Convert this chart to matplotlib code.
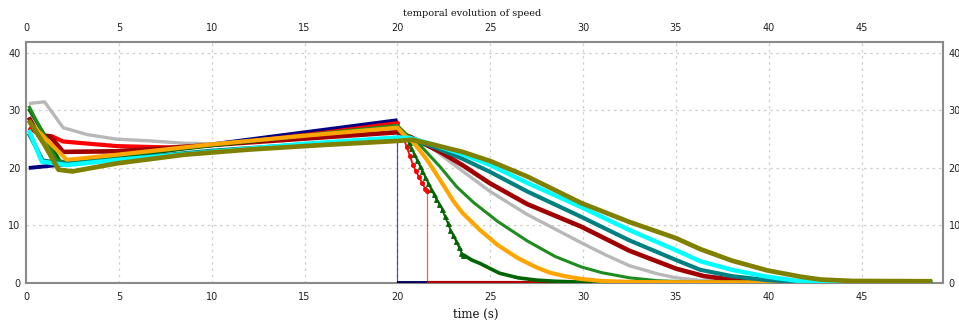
import matplotlib
matplotlib.use("Agg")
import matplotlib.pyplot as plt
from matplotlib.colors import to_rgb

# ---- speed traces (m/s) against time (s) ----
navy_t = [0.15, 2.0, 5.0, 10.0, 15.0, 20.0, 20.0, 21.6]
navy_v = [20.0, 20.6, 21.9, 24.1, 26.2, 28.3, 0.0, 0.0]

red_t = [0.15, 0.8, 1.4, 2.0, 4.9, 8.5, 12.0, 16.0, 20.0,
         20.17, 20.33, 20.5, 20.67, 20.83, 21.0, 21.17, 21.33, 21.5, 21.58,
         21.58, 48.8]
red_v = [27.0, 25.7, 25.5, 24.6, 23.8, 23.5, 24.6, 26.1, 27.8,
         26.3, 25.1, 23.7, 22.1, 20.6, 19.4, 18.4, 17.4, 16.4, 16.0,
         0.0, 0.0]

darkred_t = [0.15, 0.7, 1.3, 2.0, 4.9, 10.0, 15.0, 20.0, 20.7, 22.3, 23.5,
             25.0, 27.0, 29.9, 32.5, 35.0, 36.5, 38.2, 40.0, 48.8]
darkred_v = [28.8, 25.6, 25.5, 22.8, 22.9, 24.0, 25.1, 26.2, 25.4, 22.8, 20.5,
             17.3, 13.7, 9.8, 5.6, 2.5, 1.2, 0.5, 0.2, 0.1]

grey_t = [0.15, 1.0, 2.0, 3.3, 4.9, 6.7, 8.5, 10.0, 15.0, 20.0, 20.7, 21.4,
          23.2, 25.0, 27.0, 29.9, 31.2, 32.5, 34.0, 35.0, 36.5, 48.8]
grey_v = [31.2, 31.5, 27.0, 25.8, 25.0, 24.7, 24.3, 24.2, 25.3, 26.5, 25.3, 24.6,
          20.2, 15.9, 11.9, 7.0, 4.9, 3.0, 1.6, 0.9, 0.4, 0.1]

green_t = [0.15, 1.65, 2.2, 5.0, 10.0, 15.0, 20.0, 20.5, 21.04, 22.3, 23.2,
           24.1, 25.4, 27.0, 28.5, 29.9, 31.0, 32.5, 34.0, 36.0, 48.8]
green_v = [30.8, 21.4, 21.0, 22.2, 24.0, 25.7, 27.4, 25.8, 24.6, 20.2, 16.7,
           14.0, 10.7, 7.3, 4.6, 2.8, 1.8, 0.9, 0.4, 0.15, 0.05]

dkgreen_t = [0.15, 1.9, 5.0, 10.0, 15.0, 20.0, 20.15, 20.3, 20.45, 20.6,
             20.75, 20.9, 21.05, 21.2, 21.35, 21.5, 21.65, 21.8, 21.95, 22.1,
             22.25, 22.4, 22.55, 22.7, 22.85, 23.0, 23.15, 23.3, 23.45, 23.55,
             24.0, 24.45, 25.0, 25.5, 26.5, 27.5, 28.5, 30.0, 48.8]
dkgreen_v = [30.3, 20.8, 22.0, 23.9, 25.6, 27.3, 26.6, 25.9, 25.2, 24.6,
             23.5, 22.4, 21.4, 20.4, 19.4, 18.4, 17.4, 16.4, 15.5, 14.6,
             13.8, 12.9, 11.6, 10.5, 9.3, 8.3, 7.3, 6.3, 5.3, 4.9,
             4.0, 3.4, 2.5, 1.7, 0.9, 0.5, 0.3, 0.15, 0.05]

orange_t = [0.15, 2.2, 4.9, 10.0, 15.0, 20.0, 20.4, 20.85, 21.6, 22.5, 23.0,
            23.5, 24.45, 25.4, 26.5, 27.5, 28.2, 29.0, 29.9, 31.0, 33.0, 48.8]
orange_v = [28.0, 21.4, 22.3, 24.1, 25.6, 27.0, 25.6, 24.5, 21.4, 16.9, 14.3,
            12.2, 9.2, 6.6, 4.3, 2.7, 1.8, 1.2, 0.7, 0.35, 0.15, 0.05]

teal_t = [0.15, 0.9, 2.2, 5.0, 10.0, 15.0, 20.0, 20.7, 22.0, 23.5, 25.0,
          27.0, 29.9, 32.5, 35.0, 36.3, 38.0, 39.9, 41.5, 48.8]
teal_v = [26.0, 21.3, 20.7, 21.5, 23.0, 24.1, 25.0, 25.1, 23.6, 21.6, 19.3,
          15.9, 11.5, 7.4, 4.0, 2.3, 1.2, 0.5, 0.2, 0.1]

cyan_t = [0.15, 0.85, 2.2, 4.9, 10.0, 15.0, 20.0, 20.7, 22.0, 23.5, 25.0,
          27.0, 29.9, 32.5, 35.0, 36.3, 38.0, 39.9, 41.5, 42.8, 48.8]
cyan_v = [26.6, 21.1, 20.5, 21.4, 22.8, 24.2, 25.3, 25.2, 24.0, 22.4, 20.5,
          17.4, 13.2, 9.2, 5.7, 3.8, 2.3, 1.1, 0.4, 0.2, 0.1]

olive_t = [0.15, 1.0, 1.75, 2.5, 4.9, 8.5, 12.0, 16.0, 20.0, 20.8, 22.0, 23.5,
           25.0, 27.0, 29.9, 32.5, 35.0, 36.3, 38.0, 39.9, 41.7, 42.8,
           44.5, 48.8]
olive_v = [28.3, 24.0, 19.7, 19.4, 20.8, 22.3, 23.2, 24.0, 24.7, 24.9, 24.0,
           22.8, 21.2, 18.5, 13.9, 10.6, 7.8, 5.9, 3.9, 2.2, 1.1, 0.6,
           0.35, 0.3]

x_ticks = [0, 5, 10, 15, 20, 25, 30, 35, 40, 45]
y_ticks = [0, 10, 20, 30, 40]

W, H = 959, 325
fig = plt.figure(figsize=(W / 100, H / 100), dpi=100)
ax = fig.add_axes([26 / W, (H - 283) / H, (943 - 26) / W, (283 - 42) / H])
ax.set_xlim(0, 49.38)
ax.set_ylim(0, 41.9)


def darker(color, f=0.7):
    r, g, b = to_rgb(color)
    return (r * f, g * f, b * f)


def draw(t, v, color, lw, marked=None, marker=None, ms=3.0, z=3):
    """Thick trace; jumps (repeated time) thin; an optional marked span
    drawn as a thin line with symbols at each sample; stretches resting
    on the zero floor drawn in a darker shade."""
    n = len(t)
    kinds = []
    for i in range(n - 1):
        if t[i + 1] == t[i]:
            kinds.append("jump")
        elif v[i] == 0 and v[i + 1] == 0:
            kinds.append("floor")
        elif marked and t[i] >= marked[0] and t[i + 1] <= marked[1]:
            kinds.append("mark")
        else:
            kinds.append("thick")
    i = 0
    while i < n - 1:
        k = kinds[i]
        j = i
        while j < n - 1 and kinds[j] == k:
            j += 1
        xs, ys = t[i:j + 1], v[i:j + 1]
        if k == "thick":
            ax.plot(xs, ys, color=color, lw=lw, solid_joinstyle="round",
                    solid_capstyle="butt", zorder=z)
        elif k == "floor":
            ax.plot(xs, ys, color=darker(color), lw=lw, solid_capstyle="butt",
                    zorder=z)
        elif k == "jump":
            ax.plot(xs, ys, color=color, lw=0.9, alpha=0.65, zorder=z)
        else:
            ax.plot(xs, ys, color=color, lw=1.3, marker=marker, ms=ms,
                    markeredgewidth=0.6, zorder=z)
        i = j


draw(navy_t, navy_v, "#000080", 2.8)
draw(grey_t, grey_v, "#b8b8b8", 2.4)
draw(red_t, red_v, "#ff0000", 3.0, marked=(20.0, 21.58), marker="o", ms=3.0)
draw(darkred_t, darkred_v, "#a00000", 3.3)
draw(dkgreen_t, dkgreen_v, "#006400", 2.6, marked=(20.0, 23.55), marker="^", ms=3.6)
draw(green_t, green_v, "#1e8c1e", 2.2)
draw(orange_t, orange_v, "#ffa500", 3.0)
draw(teal_t, teal_v, "#008080", 3.0)
draw(cyan_t, cyan_v, "#00ffff", 3.2)
draw(olive_t, olive_v, "#808000", 3.4)

# grid and frame
ax.set_xticks(x_ticks)
ax.set_yticks(y_ticks)
ax.grid(True, color="#cfcfcf", lw=0.9, linestyle=(0, (2, 3)))
ax.set_axisbelow(True)
for side in ["left", "right", "top", "bottom"]:
    ax.spines[side].set_color("#8a8a8a")
    ax.spines[side].set_linewidth(1.5)
    ax.spines[side].set_zorder(2.5)

ax.tick_params(axis="both", which="both", length=0, labelsize=7,
               labelcolor="#222222")
ax.tick_params(axis="x", top=True, labeltop=True, pad=6.5)
ax.tick_params(axis="y", right=True, labelright=True, pad=4)

fig.text(472 / W, 1 - 14 / H, "temporal evolution of speed", ha="center",
         va="center", fontsize=7, family="DejaVu Serif", color="#111111")
fig.text(476 / W, 1 - 314 / H, "time (s)", ha="center", va="center",
         fontsize=8.5, family="DejaVu Serif", color="#111111")

fig.savefig("out.png", dpi=100, facecolor="white")
